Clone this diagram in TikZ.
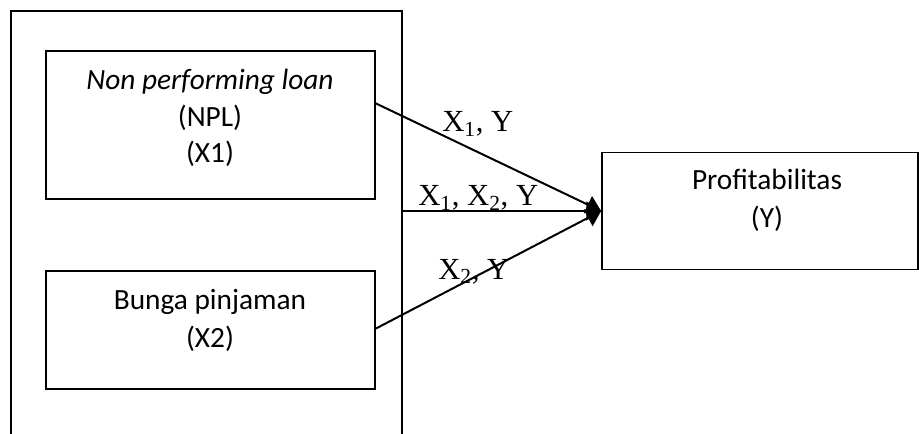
\documentclass[tikz,border=0pt]{standalone}
\usepackage{fontspec}
\setmainfont{Carlito}
\newfontfamily\tnr{Liberation Serif}
\usetikzlibrary{arrows.meta}
\begin{document}
\begin{tikzpicture}[x=0.75pt,y=-0.75pt,
  boxst/.style={draw,line width=1.3pt,rectangle,inner sep=0pt},
  txt/.style={anchor=base,font=\fontsize{22}{26}\selectfont,inner sep=0pt},
  lbl/.style={anchor=base west,font=\tnr\fontsize{23}{27}\selectfont,inner sep=0pt},
  conn/.style={line width=1.5pt,-{Triangle[length=11pt,width=14pt]}}]
\useasboundingbox (0,0) rectangle (919,434);
% outer (open-bottom) frame
\draw[line width=1.3pt] (11,436) -- (11,11) -- (402,11) -- (402,436);
% boxes
\node[boxst,minimum width=329*0.75pt,minimum height=148*0.75pt] (npl) at (210.5,125) {};
\node[boxst,minimum width=329*0.75pt,minimum height=118*0.75pt] (bunga) at (210.5,330) {};
\node[boxst,minimum width=316*0.75pt,minimum height=117*0.75pt] (prof) at (760,211) {};
% texts
\node[txt] (t1) at (210,90) {\itshape Non performing loan};
\node[txt] (t2) at (210,127) {(NPL)};
\node[txt] (t3) at (210,163) {(X1)};
\node[txt] (t4) at (210,309) {Bunga pinjaman};
\node[txt] (t5) at (210,347) {(X2)};
\node[txt] (t6) at (767,190) {Profitabilitas};
\node[txt] (t7) at (767,228) {(Y)};
% connector endpoints
\coordinate (s1) at (375,103);
\coordinate (s2) at (402,211);
\coordinate (s3) at (375,329);
\draw[conn] (s1) -- (prof.west);
\draw[conn] (s2) -- (prof.west);
\draw[conn] (s3) -- (prof.west);
% labels
\node[lbl] (l1) at (442,132) {X\textsubscript{1}, Y};
\node[lbl] (l2) at (418,206) {X\textsubscript{1}, X\textsubscript{2}, Y};
\node[lbl] (l3) at (438,279) {X\textsubscript{2}, Y};
\end{tikzpicture}
\end{document}
